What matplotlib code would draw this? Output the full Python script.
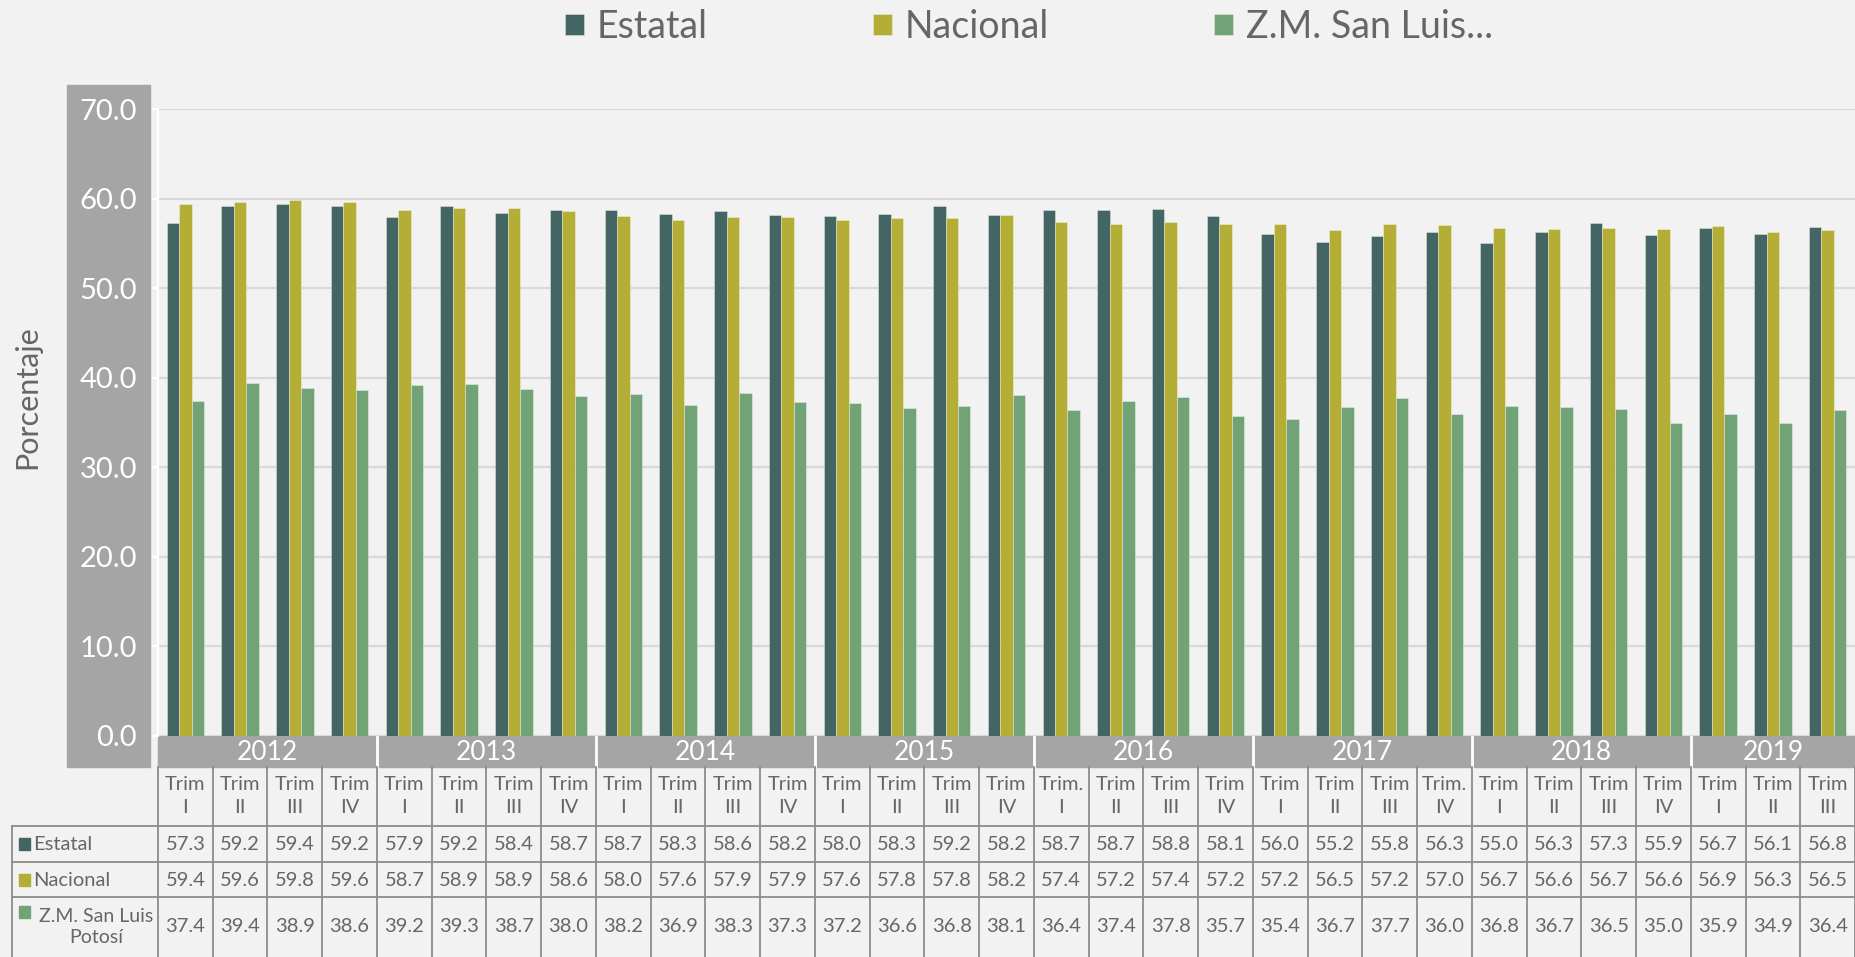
import numpy as np
import matplotlib
matplotlib.use("Agg")
import matplotlib.pyplot as plt
from matplotlib.patches import Rectangle
from matplotlib.transforms import blended_transform_factory

plt.rcParams['font.family'] = ['Lato', 'DejaVu Sans']

# ---------------- data ----------------
years = ["2012", "2013", "2014", "2015", "2016", "2017", "2018", "2019"]
quarter_labels = ["Trim\nI", "Trim\nII", "Trim\nIII", "Trim\nIV",
                  "Trim\nI", "Trim\nII", "Trim\nIII", "Trim\nIV",
                  "Trim\nI", "Trim\nII", "Trim\nIII", "Trim\nIV",
                  "Trim\nI", "Trim\nII", "Trim\nIII", "Trim\nIV",
                  "Trim.\nI", "Trim\nII", "Trim\nIII", "Trim\nIV",
                  "Trim\nI", "Trim\nII", "Trim\nIII", "Trim.\nIV",
                  "Trim\nI", "Trim\nII", "Trim\nIII", "Trim\nIV",
                  "Trim\nI", "Trim\nII", "Trim\nIII"]
estatal = [57.3, 59.2, 59.4, 59.2, 57.9, 59.2, 58.4, 58.7, 58.7, 58.3, 58.6, 58.2,
           58.0, 58.3, 59.2, 58.2, 58.7, 58.7, 58.8, 58.1, 56.0, 55.2, 55.8, 56.3,
           55.0, 56.3, 57.3, 55.9, 56.7, 56.1, 56.8]
nacional = [59.4, 59.6, 59.8, 59.6, 58.7, 58.9, 58.9, 58.6, 58.0, 57.6, 57.9, 57.9,
            57.6, 57.8, 57.8, 58.2, 57.4, 57.2, 57.4, 57.2, 57.2, 56.5, 57.2, 57.0,
            56.7, 56.6, 56.7, 56.6, 56.9, 56.3, 56.5]
zm_slp = [37.4, 39.4, 38.9, 38.6, 39.2, 39.3, 38.7, 38.0, 38.2, 36.9, 38.3, 37.3,
          37.2, 36.6, 36.8, 38.1, 36.4, 37.4, 37.8, 35.7, 35.4, 36.7, 37.7, 36.0,
          36.8, 36.7, 36.5, 35.0, 35.9, 34.9, 36.4]
series_names = ["Estatal", "Nacional", "Z.M. San Luis\nPotosí"]
legend_names = ["Estatal", "Nacional", "Z.M. San Luis..."]
yticks = [0, 10, 20, 30, 40, 50, 60, 70]

# ---------------- style ----------------
colors = ["#436563", "#b5ae36", "#72a376"]
bg = "#f2f2f2"
gray_box = "#a5a5a5"
txt_gray = "#666666"
grid_c = "#d9d9d9"
line_c = "#8c8c8c"

W, H = 1856, 957
def fx(px): return px / W
def fy(py): return 1 - py / H

fig = plt.figure(figsize=(W / 100, H / 100), dpi=100, facecolor=bg)

# gray box behind y tick labels
fig.patches.append(Rectangle((fx(67), fy(767)), fx(150) - fx(67), fy(85) - fy(767),
                             transform=fig.transFigure, color=gray_box, zorder=-5))

ax = fig.add_axes([fx(158), fy(736), fx(1855) - fx(158), fy(109) - fy(736)])
ax.set_facecolor("none")
ax.set_zorder(1)
n = len(estatal)
x = np.arange(n)
ax.set_xlim(-0.5, n - 0.5)
ax.set_ylim(0, 70)

w = 0.228
for k, (vals, c, lab) in enumerate(zip([estatal, nacional, zm_slp], colors, legend_names)):
    ax.bar(x + (k - 1) * w, vals, width=w, color=c, label=lab,
           edgecolor=(1, 1, 1, 0.35), linewidth=0.7, zorder=3)

ax.set_yticks(yticks)
ax.set_yticklabels([f"{v:.1f}" for v in yticks])
ax.yaxis.grid(True, color=grid_c, linewidth=1.6, zorder=0)
ax.set_xticks([])
for s in ["top", "right", "bottom"]:
    ax.spines[s].set_visible(False)
ax.spines["left"].set_color("white")
ax.spines["left"].set_linewidth(1.5)
ax.tick_params(axis="y", colors="white", labelcolor="white", labelsize=21,
               length=4, width=1.5, pad=11)

fig.text(fx(27), fy(397), "Porcentaje", rotation=90, ha="center", va="center",
         fontsize=22, color=txt_gray)

# legend
handles, labels = ax.get_legend_handles_labels()
leg = fig.legend(handles, labels, loc="center", bbox_to_anchor=(fx(1029), fy(27)),
                 ncol=3, frameon=False, fontsize=27, labelcolor=txt_gray,
                 handlelength=0.5, handleheight=0.5, handletextpad=0.35,
                 columnspacing=4.4)

# ---------------- data table ----------------
bt = blended_transform_factory(ax.transData, fig.transFigure)
x_end = n + 0.5

# year header row
ax.add_patch(Rectangle((-0.5, fy(767)), x_end + 0.5, fy(736) - fy(767), transform=bt,
                       color=gray_box, clip_on=False, zorder=1))
for i, yr in enumerate(years):
    idx = [j for j in range(i * 4, i * 4 + 4) if j < n]
    ax.text(np.mean(idx), fy(752), yr, transform=bt, ha="center", va="center",
            fontsize=19, color="white", clip_on=False)
    if i > 0:
        ax.plot([i * 4 - 0.5] * 2, [fy(767), fy(737)], transform=bt, color="white",
                lw=2, clip_on=False, zorder=2)

# grid lines of the table
for b in np.arange(-0.5, n + 0.5, 1.0):
    ax.plot([b, b], [fy(767), 0], transform=bt, color=line_c, lw=1.3, clip_on=False)
for py in [826, 862, 897]:
    fig.add_artist(plt.Line2D([fx(12), 1], [fy(py), fy(py)], transform=fig.transFigure,
                              color=line_c, lw=1.3))
fig.add_artist(plt.Line2D([fx(12), fx(12)], [fy(826), 0], transform=fig.transFigure,
                          color=line_c, lw=1.3))

# quarter labels
for j in range(n):
    ax.text(x[j], fy(796), quarter_labels[j], transform=bt, ha="center", va="center",
            fontsize=14.5, color=txt_gray, linespacing=1.45, clip_on=False)

# values rows
rows_y = [844, 880, 927]
for vals, py in zip([estatal, nacional, zm_slp], rows_y):
    for j in range(n):
        ax.text(x[j], fy(py), f"{vals[j]:.1f}", transform=bt, ha="center", va="center",
                fontsize=14.5, color=txt_gray, clip_on=False)

# legend column of the table
marker_y = [844, 880, 912]
for name, c, py, my in zip(series_names, colors, rows_y, marker_y):
    fig.patches.append(Rectangle((fx(19), fy(my + 6)), fx(11), fy(0) - fy(12),
                                 transform=fig.transFigure, color=c))
    if "\n" in name:
        fig.text(fx(96), fy(py), name, ha="center", va="center", fontsize=14,
                 color=txt_gray, multialignment="center", linespacing=1.3)
    else:
        fig.text(fx(33), fy(py), name, ha="left", va="center", fontsize=14.5,
                 color=txt_gray)

fig.savefig("out.png", dpi=100, facecolor=bg)
